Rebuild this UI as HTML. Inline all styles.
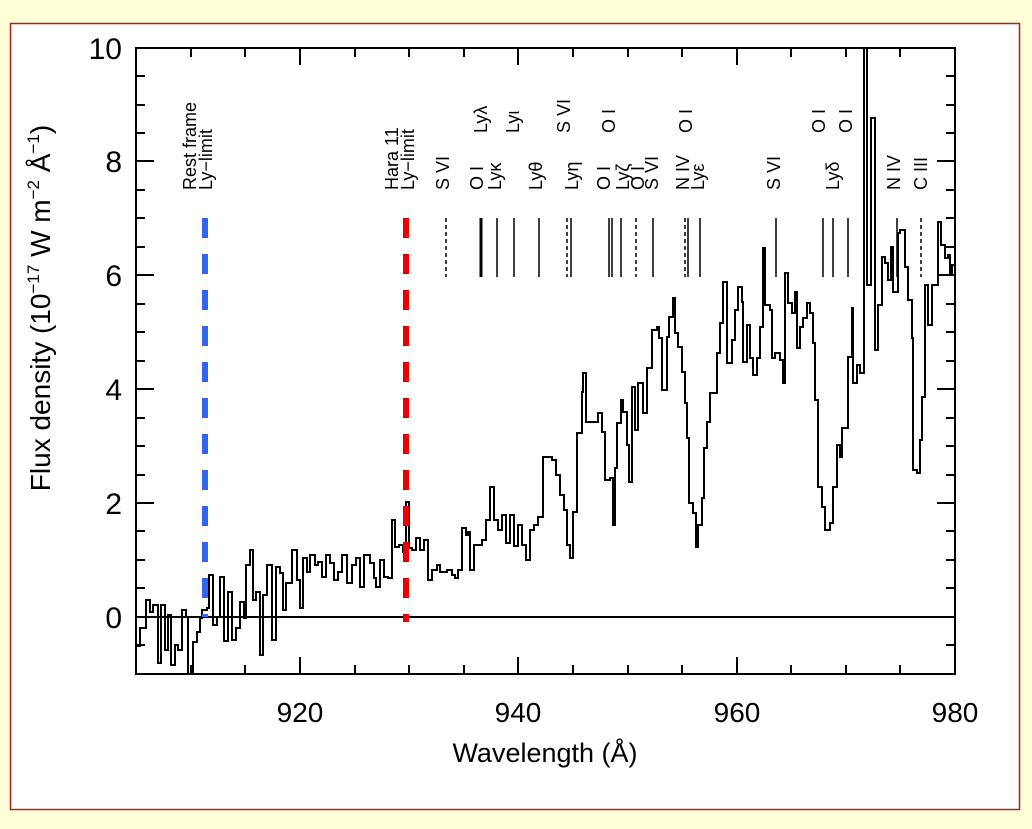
<!DOCTYPE html>
<html><head><meta charset="utf-8"><style>
html,body{margin:0;padding:0;background:#ffffd8;}
svg{display:block;}
text{font-family:"Liberation Sans",sans-serif;fill:#000;}
</style></head><body>
<svg width="1032" height="829" viewBox="0 0 1032 829" xmlns="http://www.w3.org/2000/svg">
<rect x="0" y="0" width="1032" height="829" fill="#ffffd8"/>
<rect x="10.5" y="23.5" width="1009" height="786" fill="#fff" stroke="#b02020" stroke-width="1.5"/>
<defs><clipPath id="c"><rect x="136" y="48" width="819" height="626"/></clipPath></defs>

<line x1="136" y1="617" x2="955" y2="617" stroke="#000" stroke-width="2"/>

<path clip-path="url(#c)" fill="none" stroke="#000" stroke-width="2" d="M135,646 H140 V628 H146 V600 H150 V612 H153 V605 H158 V663 H161 V605 H165 V650 H168 V615 H171 V665 H175 V645 H178 V650 H182 V610 H186 V617 H188 V680 H193 V642 H197 V632 H200 V618 H202 V610 H207 V608 H209 V575 H213 V625 H217 V617 H220 V577 H224 V641 H228 V592 H232 V640 H236 V628 H240 V602 H244 V618 H246 V565 H250 V550 H253 V600 H256 V592 H260 V655 H263 V595 H267 V565 H272 V640 H276 V567 H280 V573 H283 V610 H286 V583 H292 V550 H297 V580 H300 V608 H303 V558 H307 V572 H310 V555 H315 V565 H318 V562 H322 V577 H326 V555 H330 V563 H334 V580 H338 V572 H342 V555 H347 V583 H352 V565 H356 V558 H360 V587 H364 V555 H370 V563 H374 V578 H376 V587 H380 V560 H384 V577 H388 V578 H392 V520 H395 V547 H399 V545 H403 V552 H406 V502 H409 V548 H412 V550 H416 V538 H420 V550 H424 V540 H428 V580 H432 V570 H437 V565 H440 V572 H447 V570 H452 V575 H455 V578 H458 V570 H462 V528 H466 V535 H468 V532 H470 V570 H474 V545 H478 V545 H482 V540 H486 V520 H490 V487 H494 V520 H498 V530 H502 V515 H506 V543 H510 V515 H514 V546 H518 V525 H522 V545 H526 V560 H530 V530 H534 V525 H538 V517 H543 V457 H552 V460 H556 V475 H560 V495 H564 V510 H567 V545 H570 V558 H573 V512 H577 V433 H582 V392 H583 V373 H586 V422 H598 V413 H602 V432 H605 V480 H610 V478 H613 V525 H615 V468 H617 V423 H621 V400 H623 V412 H627 V445 H629 V482 H632 V387 H635 V430 H638 V383 H643 V413 H647 V368 H652 V330 H657 V327 H659 V338 H662 V390 H667 V337 H669 V317 H673 V298 H675 V333 H678 V347 H682 V372 H685 V403 H687 V438 H689 V503 H693 V513 H696 V547 H698 V525 H702 V498 H704 V448 H707 V422 H710 V393 H717 V353 H720 V323 H723 V282 H727 V363 H732 V340 H735 V310 H738 V287 H742 V302 H743 V362 H747 V325 H750 V358 H753 V375 H757 V358 H760 V327 H763 V248 H765 V305 H770 V310 H772 V358 H775 V353 H780 V360 H783 V383 H785 V273 H788 V303 H792 V313 H795 V292 H797 V348 H800 V327 H803 V318 H807 V303 H810 V313 H813 V343 H815 V400 H818 V487 H822 V507 H825 V530 H830 V523 H833 V487 H837 V445 H840 V457 H842 V428 H848 V357 H852 V308 H853 V383 H857 V365 H860 V373 H864 V40 H867 V285 H871 V118 H875 V350 H878 V305 H882 V257 H885 V263 H888 V280 H891 V247 H893 V292 H898 V233 H900 V230 H905 V267 H908 V300 H912 V338 H913 V470 H917 V473 H920 V440 H922 V397 H925 V285 H928 V325 H932 V285 H938 V222 H941 V245 H945 V258 H948 V255 H950 V275 H952 V265 H955"/>

<line x1="205" y1="218" x2="205" y2="617" stroke="#3366ee" stroke-width="6" stroke-dasharray="20 16"/>
<line x1="406" y1="218" x2="406" y2="622" stroke="#ee0000" stroke-width="6" stroke-dasharray="20 16"/>

<g stroke="#000" stroke-width="1.5">
<line x1="446" y1="218" x2="446" y2="277" stroke-dasharray="4 3"/>
<line x1="481" y1="218" x2="481" y2="277" stroke-width="3"/>
<line x1="497" y1="218" x2="497" y2="277"/>
<line x1="514" y1="218" x2="514" y2="277"/>
<line x1="539" y1="218" x2="539" y2="277"/>
<line x1="567" y1="218" x2="567" y2="277" stroke-dasharray="4 3"/>
<line x1="571" y1="218" x2="571" y2="277"/>
<line x1="609" y1="218" x2="609" y2="277"/>
<line x1="612" y1="218" x2="612" y2="277"/>
<line x1="621" y1="218" x2="621" y2="277"/>
<line x1="636" y1="218" x2="636" y2="277" stroke-dasharray="4 3"/>
<line x1="653" y1="218" x2="653" y2="277"/>
<line x1="685" y1="218" x2="685" y2="277" stroke-dasharray="4 3"/>
<line x1="688" y1="218" x2="688" y2="277"/>
<line x1="700" y1="218" x2="700" y2="277"/>
<line x1="776" y1="218" x2="776" y2="277"/>
<line x1="823" y1="218" x2="823" y2="277"/>
<line x1="833" y1="218" x2="833" y2="277"/>
<line x1="848" y1="218" x2="848" y2="277"/>
<line x1="897" y1="218" x2="897" y2="277"/>
<line x1="921" y1="218" x2="921" y2="277" stroke-dasharray="4 3"/>
</g>

<g font-size="18">
<text transform="translate(196,190) rotate(-90)">Rest frame</text>
<text transform="translate(212,190) rotate(-90)">Ly−limit</text>
<text transform="translate(398,190) rotate(-90)">Hara 11</text>
<text transform="translate(414,190) rotate(-90)">Ly−limit</text>
<text transform="translate(449,190) rotate(-90)">S VI</text>
<text transform="translate(483,190) rotate(-90)">O I</text>
<text transform="translate(501,190) rotate(-90)">Lyκ</text>
<text transform="translate(542,190) rotate(-90)">Lyθ</text>
<text transform="translate(578,190) rotate(-90)">Lyη</text>
<text transform="translate(610,190) rotate(-90)">O I</text>
<text transform="translate(629,190) rotate(-90)">Lyζ</text>
<text transform="translate(644,190) rotate(-90)">O I</text>
<text transform="translate(658,190) rotate(-90)">S VI</text>
<text transform="translate(689,190) rotate(-90)">N IV</text>
<text transform="translate(704,190) rotate(-90)">Lyε</text>
<text transform="translate(780,190) rotate(-90)">S VI</text>
<text transform="translate(839,190) rotate(-90)">Lyδ</text>
<text transform="translate(900,190) rotate(-90)">N IV</text>
<text transform="translate(927,190) rotate(-90)">C III</text>
<text transform="translate(487,133) rotate(-90)">Lyλ</text>
<text transform="translate(519,133) rotate(-90)">Lyι</text>
<text transform="translate(570,133) rotate(-90)">S VI</text>
<text transform="translate(615,133) rotate(-90)">O I</text>
<text transform="translate(692,133) rotate(-90)">O I</text>
<text transform="translate(825,133) rotate(-90)">O I</text>
<text transform="translate(852,133) rotate(-90)">O I</text>
</g>

<rect x="136" y="48" width="819" height="626" fill="none" stroke="#000" stroke-width="2"/>
<g stroke="#000" stroke-width="2">
<path d="M136,617h18M136,503h18M136,389h18M136,275h18M136,161h18M955,617h-18M955,503h-18M955,389h-18M955,275h-18M955,161h-18"/>
<path d="M136,645h9M136,588h9M136,560h9M136,531h9M136,475h9M136,446h9M136,418h9M136,361h9M136,332h9M136,304h9M136,247h9M136,218h9M136,190h9M136,133h9M136,105h9M136,76h9
M955,645h-9M955,588h-9M955,560h-9M955,531h-9M955,475h-9M955,446h-9M955,418h-9M955,361h-9M955,332h-9M955,304h-9M955,247h-9M955,218h-9M955,190h-9M955,133h-9M955,105h-9M955,76h-9"/>
<path d="M300,674v-17M518,674v-17M737,674v-17M300,48v17M518,48v17M737,48v17"/>
<path d="M191,674v-9M245,674v-9M355,674v-9M409,674v-9M464,674v-9M573,674v-9M628,674v-9M682,674v-9M791,674v-9M846,674v-9M900,674v-9
M191,48v9M245,48v9M355,48v9M409,48v9M464,48v9M573,48v9M628,48v9M682,48v9M791,48v9M846,48v9M900,48v9"/>
</g>

<g font-size="30" text-anchor="end">
<text x="122" y="628">0</text>
<text x="122" y="514">2</text>
<text x="122" y="400">4</text>
<text x="122" y="286">6</text>
<text x="122" y="172">8</text>
<text x="122" y="59">10</text>
</g>
<g font-size="28" text-anchor="middle">
<text x="300" y="722">920</text>
<text x="518" y="722">940</text>
<text x="737" y="722">960</text>
<text x="955" y="722">980</text>
</g>
<text x="545" y="762" font-size="27" text-anchor="middle">Wavelength (Å)</text>
<text transform="translate(50,308) rotate(-90)" font-size="28" text-anchor="middle">Flux density (10<tspan font-size="17" dy="-11">−17</tspan><tspan dy="11"> W m</tspan><tspan font-size="17" dy="-11">−2</tspan><tspan dy="11"> Å</tspan><tspan font-size="17" dy="-11">−1</tspan><tspan dy="11">)</tspan></text>
</svg>
</body></html>
